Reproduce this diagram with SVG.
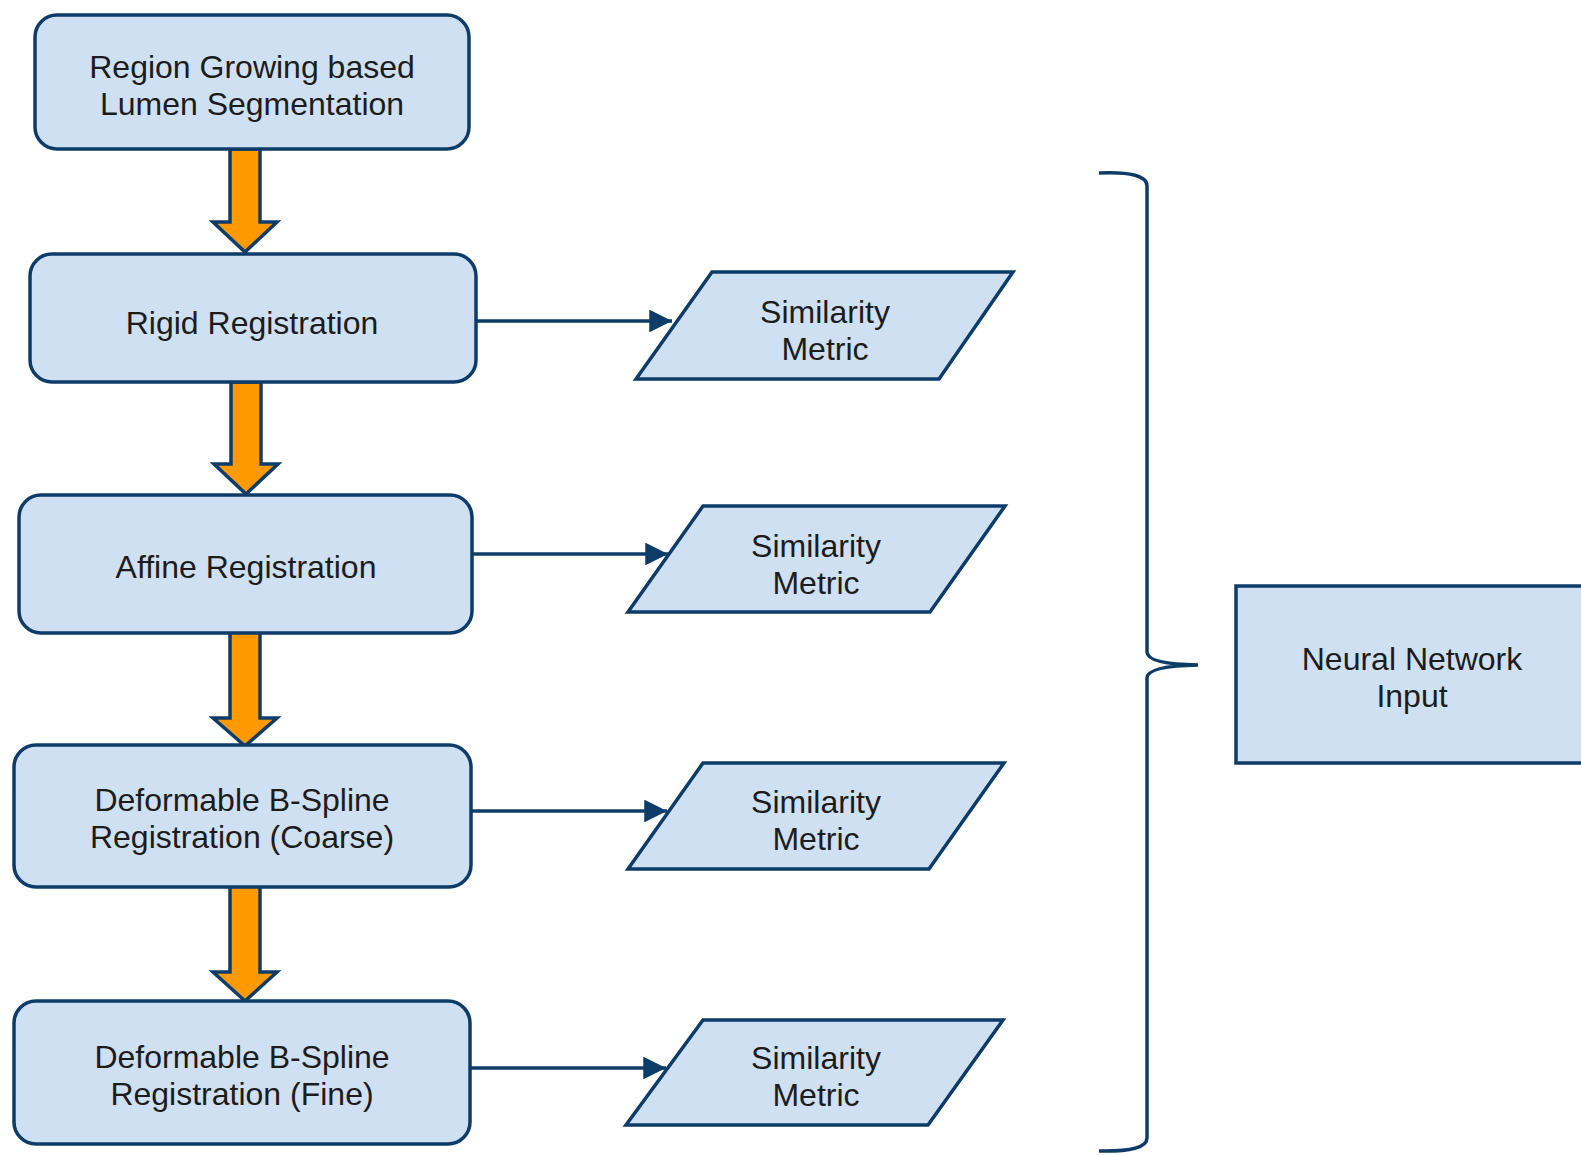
<svg xmlns="http://www.w3.org/2000/svg" width="1581" height="1155" viewBox="0 0 1581 1155">
<defs>
<style>
.box{fill:#cfe0f2;stroke:#0e3c69;stroke-width:3.5}
.big{fill:#ff9900;stroke:#0e3c69;stroke-width:3.5;stroke-linejoin:miter}
.ln{fill:none;stroke:#0e3c69;stroke-width:3.5}
.t{font-family:"Liberation Sans",Arial,sans-serif;font-size:32px;fill:#1c1c1c;text-anchor:middle}
</style>
<marker id="ah" viewBox="0 0 10 10" refX="10" refY="5" markerWidth="8" markerHeight="6.5" markerUnits="strokeWidth" orient="auto">
<path d="M0,0 L10,5 L0,10 z" fill="#0e3c69"/>
</marker>
</defs>
<rect width="1581" height="1155" fill="#ffffff"/>

<g id="connectors">
<path class="big" d="M230,149 L260,149 L260,222 L277,222 L245,252 L213,222 L230,222 Z"/>
<path class="big" d="M231,382 L261,382 L261,464 L278,464 L246,494 L214,464 L231,464 Z"/>
<path class="big" d="M230,632 L260,632 L260,718 L277,718 L245,746 L213,718 L230,718 Z"/>
<path class="big" d="M230,886 L260,886 L260,972 L277,972 L245,1001 L213,972 L230,972 Z"/>
<line class="ln" x1="476" y1="321" x2="672" y2="321" marker-end="url(#ah)"/>
<line class="ln" x1="472" y1="554" x2="668" y2="554" marker-end="url(#ah)"/>
<line class="ln" x1="471" y1="811" x2="667" y2="811" marker-end="url(#ah)"/>
<line class="ln" x1="470" y1="1068" x2="666" y2="1068" marker-end="url(#ah)"/>
<path class="ln" d="M1099,173 Q1147,171 1147,186 L1147,652 Q1147,664 1198,665 Q1147,666 1147,678 L1147,1138 Q1147,1152 1099,1151"/>
</g>

<g id="n1">
<rect class="box" x="35" y="15" width="434" height="134" rx="22"/>
<text class="t" x="252" y="78">Region Growing based</text>
<text class="t" x="252" y="115">Lumen Segmentation</text>
</g>
<g id="n2">
<rect class="box" x="30" y="254" width="446" height="128" rx="22"/>
<text class="t" x="252" y="334">Rigid Registration</text>
</g>
<g id="n3">
<rect class="box" x="19" y="495" width="453" height="138" rx="22"/>
<text class="t" x="246" y="578">Affine Registration</text>
</g>
<g id="n4">
<rect class="box" x="14" y="745" width="457" height="142" rx="22"/>
<text class="t" x="242" y="811">Deformable B-Spline</text>
<text class="t" x="242" y="848">Registration (Coarse)</text>
</g>
<g id="n5">
<rect class="box" x="14" y="1001" width="456" height="143" rx="22"/>
<text class="t" x="242" y="1068">Deformable B-Spline</text>
<text class="t" x="242" y="1105">Registration (Fine)</text>
</g>
<g id="s1">
<polygon class="box" points="712,272 1013,272 939,379 636,379"/>
<text class="t" x="825" y="323">Similarity</text>
<text class="t" x="825" y="360">Metric</text>
</g>
<g id="s2">
<polygon class="box" points="703,506 1005,506 930,612 628,612"/>
<text class="t" x="816" y="557">Similarity</text>
<text class="t" x="816" y="594">Metric</text>
</g>
<g id="s3">
<polygon class="box" points="703,763 1004,763 929,869 628,869"/>
<text class="t" x="816" y="813">Similarity</text>
<text class="t" x="816" y="850">Metric</text>
</g>
<g id="s4">
<polygon class="box" points="703,1020 1003,1020 928,1125 626,1125"/>
<text class="t" x="816" y="1069">Similarity</text>
<text class="t" x="816" y="1106">Metric</text>
</g>
<g id="nn">
<rect class="box" x="1236" y="586" width="370" height="177"/>
<text class="t" x="1412" y="670">Neural Network</text>
<text class="t" x="1412" y="707">Input</text>
</g>
</svg>
